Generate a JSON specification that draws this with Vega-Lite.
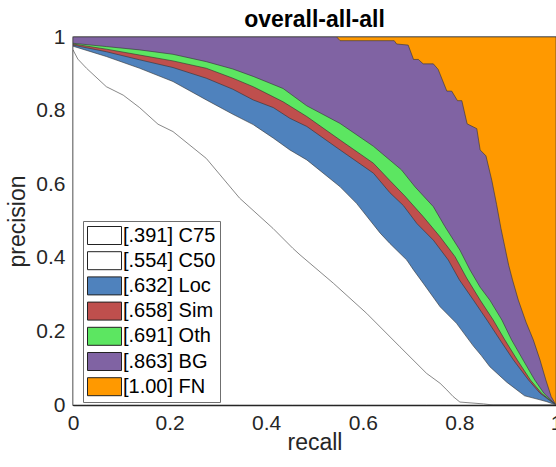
{
  "$schema": "https://vega.github.io/schema/vega-lite/v6.json",
  "autosize": "none",
  "width": 483,
  "height": 368,
  "padding": {"left": 73, "top": 37, "right": 0, "bottom": 62},
  "background": "white",
  "title": {"text": "overall-all-all", "fontSize": 23, "fontWeight": "bold", "font": "Liberation Sans", "color": "black", "offset": -6, "anchor": "middle"},
  "config": {
    "view": {"stroke": "#262626", "strokeWidth": 1.3},
    "axis": {"grid": false, "labelFlush": false, "domainColor": "#262626", "domainWidth": 1.3, "tickColor": "#262626", "tickWidth": 1, "tickSize": -6, "labelFont": "Liberation Sans", "labelFontSize": 21, "labelColor": "#262626", "titleFont": "Liberation Sans", "titleFontSize": 23, "titleFontWeight": "normal", "titleColor": "#262626"},
    "legend": {"orient": "none", "legendX": 10, "legendY": 184, "strokeColor": "#6f6f6f", "fillColor": "white", "padding": 4, "rowPadding": 2.2, "labelFont": "Liberation Sans", "labelFontSize": 20, "labelColor": "black", "symbolType": "M-1,-0.9L2.4,-0.9L2.4,0.9L-1,0.9Z", "symbolSize": 400, "labelOffset": 15, "symbolStrokeColor": "#222", "symbolStrokeWidth": 1, "symbolOpacity": 1}
  },
  "datasets": {
    "curves": [
      {"s": "[1.00] FN", "r": 0, "p": 1},
      {"s": "[1.00] FN", "r": 1, "p": 1},

      {"s": "[.863] BG", "r": 0, "p": 1},
      {"s": "[.863] BG", "r": 0.546, "p": 1},
      {"s": "[.863] BG", "r": 0.553, "p": 0.99},
      {"s": "[.863] BG", "r": 0.665, "p": 0.99},
      {"s": "[.863] BG", "r": 0.67, "p": 0.981},
      {"s": "[.863] BG", "r": 0.694, "p": 0.978},
      {"s": "[.863] BG", "r": 0.705, "p": 0.939},
      {"s": "[.863] BG", "r": 0.715, "p": 0.939},
      {"s": "[.863] BG", "r": 0.725, "p": 0.927},
      {"s": "[.863] BG", "r": 0.746, "p": 0.927},
      {"s": "[.863] BG", "r": 0.756, "p": 0.912},
      {"s": "[.863] BG", "r": 0.774, "p": 0.853},
      {"s": "[.863] BG", "r": 0.784, "p": 0.853},
      {"s": "[.863] BG", "r": 0.796, "p": 0.827},
      {"s": "[.863] BG", "r": 0.805, "p": 0.827},
      {"s": "[.863] BG", "r": 0.816, "p": 0.764},
      {"s": "[.863] BG", "r": 0.836, "p": 0.751},
      {"s": "[.863] BG", "r": 0.843, "p": 0.693},
      {"s": "[.863] BG", "r": 0.855, "p": 0.677},
      {"s": "[.863] BG", "r": 0.867, "p": 0.611},
      {"s": "[.863] BG", "r": 0.877, "p": 0.545},
      {"s": "[.863] BG", "r": 0.886, "p": 0.48},
      {"s": "[.863] BG", "r": 0.894, "p": 0.43},
      {"s": "[.863] BG", "r": 0.902, "p": 0.38},
      {"s": "[.863] BG", "r": 0.91, "p": 0.34},
      {"s": "[.863] BG", "r": 0.922, "p": 0.285},
      {"s": "[.863] BG", "r": 0.938, "p": 0.225},
      {"s": "[.863] BG", "r": 0.953, "p": 0.177},
      {"s": "[.863] BG", "r": 0.967, "p": 0.122},
      {"s": "[.863] BG", "r": 0.979, "p": 0.068},
      {"s": "[.863] BG", "r": 0.99, "p": 0.023},
      {"s": "[.863] BG", "r": 1, "p": 0},

      {"s": "[.691] Oth", "r": 0, "p": 0.983},
      {"s": "[.691] Oth", "r": 0.069, "p": 0.974},
      {"s": "[.691] Oth", "r": 0.138, "p": 0.965},
      {"s": "[.691] Oth", "r": 0.207, "p": 0.953},
      {"s": "[.691] Oth", "r": 0.276, "p": 0.933},
      {"s": "[.691] Oth", "r": 0.331, "p": 0.913},
      {"s": "[.691] Oth", "r": 0.373, "p": 0.893},
      {"s": "[.691] Oth", "r": 0.435, "p": 0.86},
      {"s": "[.691] Oth", "r": 0.484, "p": 0.813},
      {"s": "[.691] Oth", "r": 0.553, "p": 0.765},
      {"s": "[.691] Oth", "r": 0.622, "p": 0.703},
      {"s": "[.691] Oth", "r": 0.68, "p": 0.639},
      {"s": "[.691] Oth", "r": 0.708, "p": 0.593},
      {"s": "[.691] Oth", "r": 0.746, "p": 0.539},
      {"s": "[.691] Oth", "r": 0.77, "p": 0.485},
      {"s": "[.691] Oth", "r": 0.801, "p": 0.421},
      {"s": "[.691] Oth", "r": 0.822, "p": 0.367},
      {"s": "[.691] Oth", "r": 0.843, "p": 0.32},
      {"s": "[.691] Oth", "r": 0.863, "p": 0.285},
      {"s": "[.691] Oth", "r": 0.888, "p": 0.231},
      {"s": "[.691] Oth", "r": 0.908, "p": 0.177},
      {"s": "[.691] Oth", "r": 0.932, "p": 0.122},
      {"s": "[.691] Oth", "r": 0.956, "p": 0.068},
      {"s": "[.691] Oth", "r": 0.975, "p": 0.032},
      {"s": "[.691] Oth", "r": 1, "p": 0},

      {"s": "[.658] Sim", "r": 0, "p": 0.981},
      {"s": "[.658] Sim", "r": 0.069, "p": 0.967},
      {"s": "[.658] Sim", "r": 0.138, "p": 0.951},
      {"s": "[.658] Sim", "r": 0.207, "p": 0.935},
      {"s": "[.658] Sim", "r": 0.276, "p": 0.915},
      {"s": "[.658] Sim", "r": 0.331, "p": 0.888},
      {"s": "[.658] Sim", "r": 0.373, "p": 0.865},
      {"s": "[.658] Sim", "r": 0.435, "p": 0.824},
      {"s": "[.658] Sim", "r": 0.484, "p": 0.784},
      {"s": "[.658] Sim", "r": 0.553, "p": 0.72},
      {"s": "[.658] Sim", "r": 0.622, "p": 0.657},
      {"s": "[.658] Sim", "r": 0.656, "p": 0.61},
      {"s": "[.658] Sim", "r": 0.687, "p": 0.568},
      {"s": "[.658] Sim", "r": 0.725, "p": 0.512},
      {"s": "[.658] Sim", "r": 0.76, "p": 0.457},
      {"s": "[.658] Sim", "r": 0.791, "p": 0.403},
      {"s": "[.658] Sim", "r": 0.815, "p": 0.345},
      {"s": "[.658] Sim", "r": 0.843, "p": 0.285},
      {"s": "[.658] Sim", "r": 0.87, "p": 0.231},
      {"s": "[.658] Sim", "r": 0.894, "p": 0.177},
      {"s": "[.658] Sim", "r": 0.92, "p": 0.122},
      {"s": "[.658] Sim", "r": 0.947, "p": 0.068},
      {"s": "[.658] Sim", "r": 0.97, "p": 0.032},
      {"s": "[.658] Sim", "r": 1, "p": 0},

      {"s": "[.632] Loc", "r": 0, "p": 0.978},
      {"s": "[.632] Loc", "r": 0.069, "p": 0.96},
      {"s": "[.632] Loc", "r": 0.138, "p": 0.938},
      {"s": "[.632] Loc", "r": 0.207, "p": 0.917},
      {"s": "[.632] Loc", "r": 0.276, "p": 0.888},
      {"s": "[.632] Loc", "r": 0.331, "p": 0.858},
      {"s": "[.632] Loc", "r": 0.373, "p": 0.829},
      {"s": "[.632] Loc", "r": 0.415, "p": 0.808},
      {"s": "[.632] Loc", "r": 0.449, "p": 0.779},
      {"s": "[.632] Loc", "r": 0.484, "p": 0.757},
      {"s": "[.632] Loc", "r": 0.553, "p": 0.693},
      {"s": "[.632] Loc", "r": 0.622, "p": 0.63},
      {"s": "[.632] Loc", "r": 0.656, "p": 0.577},
      {"s": "[.632] Loc", "r": 0.684, "p": 0.542},
      {"s": "[.632] Loc", "r": 0.712, "p": 0.493},
      {"s": "[.632] Loc", "r": 0.746, "p": 0.448},
      {"s": "[.632] Loc", "r": 0.777, "p": 0.394},
      {"s": "[.632] Loc", "r": 0.8, "p": 0.34},
      {"s": "[.632] Loc", "r": 0.829, "p": 0.285},
      {"s": "[.632] Loc", "r": 0.857, "p": 0.231},
      {"s": "[.632] Loc", "r": 0.884, "p": 0.177},
      {"s": "[.632] Loc", "r": 0.912, "p": 0.122},
      {"s": "[.632] Loc", "r": 0.943, "p": 0.068},
      {"s": "[.632] Loc", "r": 0.967, "p": 0.032},
      {"s": "[.632] Loc", "r": 1, "p": 0},

      {"s": "[.554] C50", "r": 0, "p": 0.975},
      {"s": "[.554] C50", "r": 0.069, "p": 0.947},
      {"s": "[.554] C50", "r": 0.138, "p": 0.915},
      {"s": "[.554] C50", "r": 0.207, "p": 0.879},
      {"s": "[.554] C50", "r": 0.276, "p": 0.829},
      {"s": "[.554] C50", "r": 0.331, "p": 0.79},
      {"s": "[.554] C50", "r": 0.373, "p": 0.762},
      {"s": "[.554] C50", "r": 0.415, "p": 0.725},
      {"s": "[.554] C50", "r": 0.449, "p": 0.693},
      {"s": "[.554] C50", "r": 0.484, "p": 0.666},
      {"s": "[.554] C50", "r": 0.553, "p": 0.593},
      {"s": "[.554] C50", "r": 0.587, "p": 0.548},
      {"s": "[.554] C50", "r": 0.636, "p": 0.467},
      {"s": "[.554] C50", "r": 0.656, "p": 0.439},
      {"s": "[.554] C50", "r": 0.691, "p": 0.394},
      {"s": "[.554] C50", "r": 0.705, "p": 0.367},
      {"s": "[.554] C50", "r": 0.725, "p": 0.331},
      {"s": "[.554] C50", "r": 0.76, "p": 0.267},
      {"s": "[.554] C50", "r": 0.794, "p": 0.222},
      {"s": "[.554] C50", "r": 0.829, "p": 0.16},
      {"s": "[.554] C50", "r": 0.845, "p": 0.135},
      {"s": "[.554] C50", "r": 0.863, "p": 0.104},
      {"s": "[.554] C50", "r": 0.898, "p": 0.062},
      {"s": "[.554] C50", "r": 0.935, "p": 0.025},
      {"s": "[.554] C50", "r": 0.967, "p": 0.014},
      {"s": "[.554] C50", "r": 0.981, "p": 0.009},
      {"s": "[.554] C50", "r": 1, "p": 0},

      {"s": "[.391] C75", "r": 0, "p": 0.965},
      {"s": "[.391] C75", "r": 0.01, "p": 0.94},
      {"s": "[.391] C75", "r": 0.028, "p": 0.915},
      {"s": "[.391] C75", "r": 0.069, "p": 0.865},
      {"s": "[.391] C75", "r": 0.104, "p": 0.842},
      {"s": "[.391] C75", "r": 0.138, "p": 0.808},
      {"s": "[.391] C75", "r": 0.176, "p": 0.763},
      {"s": "[.391] C75", "r": 0.207, "p": 0.743},
      {"s": "[.391] C75", "r": 0.276, "p": 0.67},
      {"s": "[.391] C75", "r": 0.345, "p": 0.562},
      {"s": "[.391] C75", "r": 0.414, "p": 0.48},
      {"s": "[.391] C75", "r": 0.455, "p": 0.426},
      {"s": "[.391] C75", "r": 0.47, "p": 0.408},
      {"s": "[.391] C75", "r": 0.539, "p": 0.331},
      {"s": "[.391] C75", "r": 0.608, "p": 0.249},
      {"s": "[.391] C75", "r": 0.677, "p": 0.158},
      {"s": "[.391] C75", "r": 0.732, "p": 0.086},
      {"s": "[.391] C75", "r": 0.76, "p": 0.059},
      {"s": "[.391] C75", "r": 0.774, "p": 0.041},
      {"s": "[.391] C75", "r": 0.787, "p": 0.023},
      {"s": "[.391] C75", "r": 0.801, "p": 0.008},
      {"s": "[.391] C75", "r": 0.85, "p": 0.003},
      {"s": "[.391] C75", "r": 0.87, "p": 0},
      {"s": "[.391] C75", "r": 1, "p": 0}
    ]
  },
  "data": {"name": "curves"},
  "resolve": {"axis": {"x": "independent", "y": "independent"}},
  "layer": [
    {
      "encoding": {
        "x": {"field": "r", "type": "quantitative", "scale": {"domain": [0, 1], "nice": false, "zero": false}, "axis": {"values": [0, 0.2, 0.4, 0.6, 0.8, 1], "format": "~g", "title": "recall", "labelPadding": 13, "titlePadding": -2}},
        "y": {"field": "p", "type": "quantitative", "stack": null, "scale": {"domain": [0, 1], "nice": false, "zero": false}, "axis": {"values": [0, 0.2, 0.4, 0.6, 0.8, 1], "format": "~g", "title": "precision", "labelPadding": 14, "titlePadding": 6}},
        "color": {"field": "s", "type": "nominal", "title": null,
          "scale": {"domain": ["[.391] C75", "[.554] C50", "[.632] Loc", "[.658] Sim", "[.691] Oth", "[.863] BG", "[1.00] FN"],
                    "range": ["#ffffff", "#ffffff", "#4f82bd", "#bf4f4d", "#5ce661", "#8063a3", "#ff9900"]}}
      },
      "layer": [
        {"transform": [{"filter": "datum.s == '[1.00] FN'"}], "mark": {"type": "area", "stroke": "#333", "strokeWidth": 0.6, "clip": true}},
        {"transform": [{"filter": "datum.s == '[.863] BG'"}], "mark": {"type": "area", "stroke": "#333", "strokeWidth": 0.6, "clip": true}},
        {"transform": [{"filter": "datum.s == '[.691] Oth'"}], "mark": {"type": "area", "stroke": "#333", "strokeWidth": 0.6, "clip": true}},
        {"transform": [{"filter": "datum.s == '[.658] Sim'"}], "mark": {"type": "area", "stroke": "#333", "strokeWidth": 0.6, "clip": true}},
        {"transform": [{"filter": "datum.s == '[.632] Loc'"}], "mark": {"type": "area", "stroke": "#333", "strokeWidth": 0.6, "clip": true}},
        {"transform": [{"filter": "datum.s == '[.554] C50'"}], "mark": {"type": "area", "stroke": "#333", "strokeWidth": 0.6, "clip": true}},
        {"transform": [{"filter": "datum.s == '[.391] C75'"}], "mark": {"type": "area", "stroke": "#555", "strokeWidth": 0.7, "clip": true}}
      ]
    },
    {
      "transform": [{"filter": "datum.s == '[1.00] FN'"}],
      "mark": {"type": "point", "opacity": 0},
      "encoding": {
        "x": {"field": "r", "type": "quantitative", "axis": {"orient": "top", "values": [0, 0.2, 0.4, 0.6, 0.8, 1], "labels": false, "title": null}},
        "y": {"field": "p", "type": "quantitative", "axis": {"orient": "right", "values": [0, 0.2, 0.4, 0.6, 0.8, 1], "labels": false, "title": null}}
      }
    }
  ]
}
